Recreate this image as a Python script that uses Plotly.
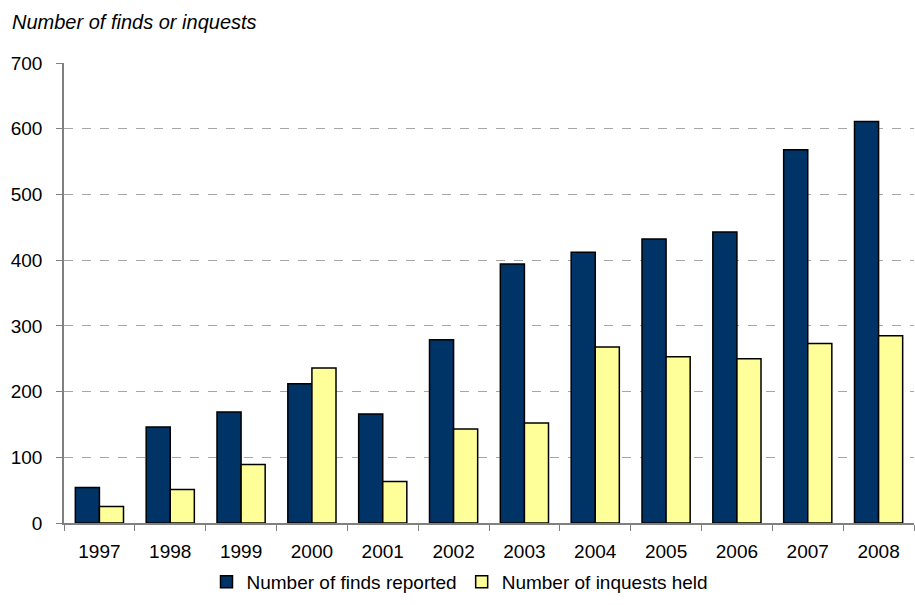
import plotly.graph_objects as go

years = ["1997", "1998", "1999", "2000", "2001", "2002",
         "2003", "2004", "2005", "2006", "2007", "2008"]
finds_reported = [54, 146, 169, 212, 166, 279, 394, 412, 432, 443, 568, 611]
inquests_held = [25, 51, 89, 236, 63, 143, 152, 268, 253, 250, 273, 285]
y_ticks = [0, 100, 200, 300, 400, 500, 600, 700]

FONT = "Liberation Sans, Arial, sans-serif"
AXIS_GREY = "#808080"

fig = go.Figure()
fig.add_trace(go.Bar(
    x=years, y=finds_reported, name="Number of finds reported",
    marker=dict(color="#003366", line=dict(color="#000000", width=1.5)),
))
fig.add_trace(go.Bar(
    x=years, y=inquests_held, name="Number of inquests held",
    marker=dict(color="#FFFF99", line=dict(color="#000000", width=1.5)),
))

W, H = 915, 605
L, R, T, B = 64, 1, 63, 82
plot_w = W - L - R
plot_h = H - T - B

fig.update_layout(
    width=W, height=H,
    margin=dict(l=L, r=R, t=T, b=B, pad=0),
    paper_bgcolor="white", plot_bgcolor="white",
    font=dict(family=FONT, size=19, color="#000000"),
    barmode="group", bargap=0.32, bargroupgap=0.0,
    showlegend=True,
    legend=dict(
        orientation="h",
        x=(460 - L) / plot_w, xanchor="center",
        y=-(582 - (T + plot_h)) / plot_h, yanchor="middle",
        font=dict(family=FONT, size=19),
        itemwidth=30, traceorder="normal",
        bgcolor="rgba(0,0,0,0)",
    ),
    title=dict(
        text="<i>Number of finds or inquests</i>",
        x=12 / W, xanchor="left", xref="container",
        y=1 - 22 / H, yanchor="middle", yref="container",
        font=dict(family=FONT, size=20, color="#000000"),
    ),
    xaxis=dict(
        type="category",
        showline=True, linecolor=AXIS_GREY, linewidth=1.5,
        ticks="outside", ticklen=6, tickcolor=AXIS_GREY, tickwidth=1,
        tickson="boundaries",
        showgrid=False, zeroline=False,
        tickfont=dict(family=FONT, size=19),
        ticklabelstandoff=10,
    ),
    yaxis=dict(
        range=[0, 700], tickvals=y_ticks,
        showline=True, linecolor=AXIS_GREY, linewidth=1.5,
        ticks="outside", ticklen=6, tickcolor=AXIS_GREY, tickwidth=1,
        showgrid=True, gridcolor="#A6A6A6", gridwidth=1, griddash="dash",
        zeroline=False,
        tickfont=dict(family=FONT, size=19),
        ticklabelstandoff=10,
    ),
)

fig.write_html("out.html")
